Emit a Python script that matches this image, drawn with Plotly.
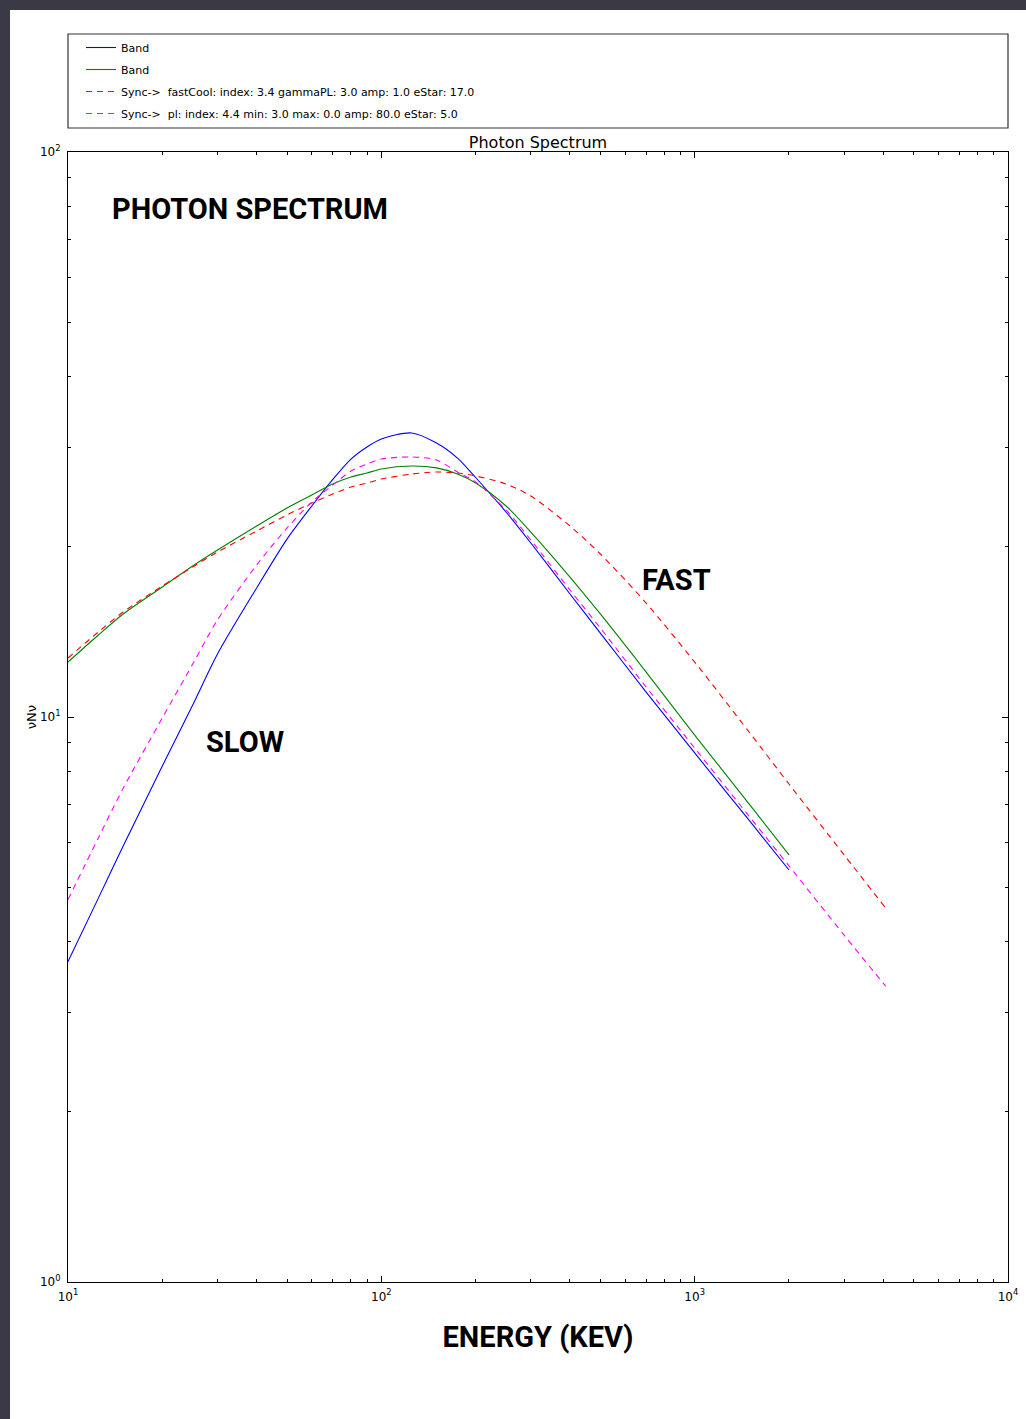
import plotly.graph_objects as go

# ---- data ----
energy_band = [10, 12.5, 15, 20, 25, 30, 40, 50, 60, 70, 80, 90, 100, 125, 150, 175, 200,
               250, 300, 400, 500, 700, 1000, 1500, 2000]
energy_sync = energy_band + [3000, 4070]

band_blue = [3.69, 4.78, 5.91, 8.19, 10.50, 12.93, 16.92, 20.65, 23.63, 26.33, 28.61,
             30.06, 31.05, 31.82, 30.55, 28.73, 26.54, 23.06, 20.32, 16.51, 14.08, 11.07,
             8.64, 6.54, 5.36]
band_green = [12.51, 13.97, 15.22, 16.99, 18.51, 19.75, 21.78, 23.44, 24.72, 25.85, 26.59,
              27.03, 27.47, 27.81, 27.60, 26.92, 25.95, 23.63, 21.25, 17.69, 15.22, 12.01,
              9.29, 6.99, 5.70]
sync_fast = [12.72, 14.14, 15.34, 17.06, 18.43, 19.59, 21.34, 22.78, 23.92, 24.81, 25.53,
             25.95, 26.37, 26.92, 27.14, 27.03, 26.70, 25.85, 24.61, 21.78, 19.43, 15.91,
             12.51, 9.37, 7.61, 5.70, 4.59]
sync_pl = [4.75, 6.11, 7.48, 9.96, 12.41, 14.85, 18.58, 21.60, 24.02, 25.74, 27.25,
           28.04, 28.61, 28.85, 28.50, 27.14, 26.06, 23.25, 20.57, 16.78, 14.37, 11.30,
           8.81, 6.65, 5.45, 4.11, 3.34]

names = ["Band", "Band",
         "Sync->\u00a0 fastCool: index: 3.4 gammaPL: 3.0 amp: 1.0 eStar: 17.0",
         "Sync->\u00a0 pl: index: 4.4 min: 3.0 max: 0.0 amp: 80.0 eStar: 5.0"]

x_major = [10, 100, 1000, 10000]
x_major_text = ["10<sup>1</sup>", "10<sup>2</sup>", "10<sup>3</sup>", "10<sup>4</sup>"]
y_major = [1, 10, 100]
y_major_text = ["10<sup>0</sup>", "10<sup>1</sup>", "10<sup>2</sup>"]
x_minor = [m * d for d in (10, 100, 1000) for m in range(2, 10)]
y_minor = [m * d for d in (1, 10) for m in range(2, 10)]

W, H = 1026, 1419
L, R, T, B = 68, 18, 152, 137
pw, ph = W - L - R, H - T - B

def px(xp):
    return (xp - L) / pw

def py(yp):
    return 1 - (yp - T) / ph

fig = go.Figure()
series = [
    (energy_band, band_blue, "#0000ff", "solid"),
    (energy_band, band_green, "#008000", "solid"),
    (energy_sync, sync_fast, "#ff0000", "6px,5px"),
    (energy_sync, sync_pl, "#ff00ff", "6px,5px"),
]
for i, (xs, ys, col, dash) in enumerate(series):
    fig.add_trace(go.Scatter(x=xs, y=ys, mode="lines", name=names[i],
                             legendgroup=f"g{i}",
                             line=dict(color=col, width=1.1, dash=dash, shape="spline",
                                       smoothing=0.8)))

big = dict(family="Roboto, Liberation Sans, sans-serif", size=29, color="black")

axis_common = dict(showline=True, linecolor="black", linewidth=1.2, mirror="allticks",
                   ticks="inside", ticklen=6, tickwidth=1, tickcolor="black",
                   showgrid=False, zeroline=False, automargin=False,
                   tickfont=dict(family="DejaVu Sans", size=12, color="black"))

fig.update_xaxes(type="log", range=[1, 4], tickmode="array", tickvals=x_major,
                 ticktext=x_major_text, ticklabelstandoff=3,
                 minor=dict(tickmode="array", tickvals=x_minor, ticks="inside", ticklen=3,
                            tickcolor="black", showgrid=False),
                 title=dict(text="<b>ENERGY (KEV)</b>", font=big, standoff=24),
                 **axis_common)
fig.update_yaxes(type="log", range=[0, 2], tickmode="array", tickvals=y_major,
                 ticktext=y_major_text, ticklabelstandoff=4,
                 minor=dict(tickmode="array", tickvals=y_minor, ticks="inside", ticklen=3,
                            tickcolor="black", showgrid=False),
                 title=dict(text="νNν", font=dict(family="DejaVu Sans", size=13, color="black"),
                            standoff=0),
                 **axis_common)

shapes = [
    # dark page border (top and left)
    dict(type="rect", xref="paper", yref="paper", x0=px(0), x1=px(W), y0=py(10), y1=py(0),
         fillcolor="#3a3946", line=dict(width=0), layer="above"),
    dict(type="rect", xref="paper", yref="paper", x0=px(0), x1=px(10), y0=py(H), y1=py(0),
         fillcolor="#3a3946", line=dict(width=0), layer="above"),
    # legend frame
    dict(type="rect", xref="paper", yref="paper", x0=0, x1=1, y0=py(128), y1=py(34),
         fillcolor="rgba(0,0,0,0)", line=dict(color="#333333", width=1.2)),
]

annotations = [
    dict(text="<b>PHOTON SPECTRUM</b>", xref="paper", yref="paper", x=px(110), y=py(209),
         xanchor="left", yanchor="middle", showarrow=False, font=big),
    dict(text="<b>SLOW</b>", xref="paper", yref="paper", x=px(245), y=py(742),
         xanchor="center", yanchor="middle", showarrow=False, font=big),
    dict(text="<b>FAST</b>", xref="paper", yref="paper", x=px(676), y=py(580),
         xanchor="center", yanchor="middle", showarrow=False, font=big),
]

fig.update_layout(
    width=W, height=H, autosize=False,
    margin=dict(l=L, r=R, t=T, b=B, pad=0, autoexpand=False),
    paper_bgcolor="white", plot_bgcolor="white",
    title=dict(text="Photon Spectrum", x=0.5, xanchor="center", xref="paper",
               yref="paper", y=1, yanchor="bottom", pad=dict(b=4),
               font=dict(family="DejaVu Sans", size=16, color="black")),
    showlegend=True,
    legend=dict(x=px(81), y=py(33), xanchor="left", yanchor="top",
                bgcolor="rgba(0,0,0,0)", borderwidth=0, tracegroupgap=3,
                font=dict(family="DejaVu Sans", size=11, color="black")),
    shapes=shapes, annotations=annotations,
)

fig.write_html("out.html", config={"displayModeBar": False},
               post_script="document.body.style.margin='0px';")
